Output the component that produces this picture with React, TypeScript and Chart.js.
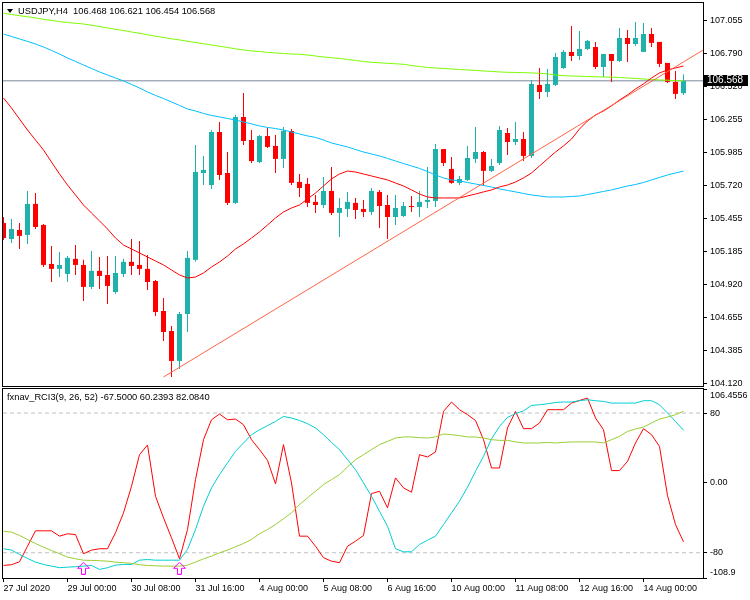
import React, { useEffect, useRef } from 'react';
import { Chart, registerables } from 'chart.js';

Chart.register(...registerables);

const FONT = "'Liberation Sans', Arial, sans-serif";

const symbolTitle = 'USDJPY,H4  106.468 106.621 106.454 106.568';
const indicatorTitle = 'fxnav_RCI3(9, 26, 52) -67.5000 60.2393 82.0840';

// H4 bars, index 0 = 27 Jul 2020 16:00
const barOpen = [
  105.418, 105.288, 105.361, 105.320, 105.572, 105.402, 105.086, 105.046, 105.005, 105.127,
  105.078, 104.900, 105.030, 104.997, 104.859, 105.005, 105.103, 105.078, 105.046, 104.948,
  104.705, 104.543, 104.301, 104.681, 105.119, 105.822, 105.725, 106.154, 105.822, 105.580,
  106.275, 106.089, 105.911, 106.121, 106.041, 105.936, 106.162, 105.750, 105.734, 105.588,
  105.563, 105.677, 105.499, 105.531, 105.580, 105.531, 105.507, 105.669, 105.563, 105.466,
  105.474, 105.555, 105.547, 105.588, 105.596, 106.016, 105.855, 105.742, 105.766, 105.936,
  105.992, 105.839, 105.903, 106.146, 106.073, 106.097, 105.960, 106.535, 106.478, 106.535,
  106.672, 106.802, 106.769, 106.826, 106.842, 106.680, 106.785, 106.729, 106.915, 106.866,
  106.802, 106.947, 106.883, 106.713, 106.559, 106.468,
];
const barHigh = [
  105.466, 105.450, 105.418, 105.677, 105.660, 105.410, 105.232, 105.183, 105.151, 105.240,
  105.119, 105.191, 105.143, 105.151, 105.151, 105.127, 105.288, 105.272, 105.159, 104.957,
  104.811, 104.584, 104.697, 105.191, 106.049, 105.960, 106.170, 106.235, 105.992, 106.291,
  106.470, 106.170, 106.129, 106.186, 106.129, 106.195, 106.178, 105.814, 105.782, 105.644,
  105.790, 105.871, 105.620, 105.669, 105.620, 105.604, 105.701, 105.685, 105.644, 105.644,
  105.588, 105.636, 105.677, 105.871, 106.057, 106.016, 105.952, 105.798, 106.041, 106.195,
  106.000, 105.936, 106.202, 106.186, 106.235, 106.154, 106.575, 106.672, 106.664, 106.794,
  106.818, 107.012, 106.972, 106.899, 106.883, 106.785, 106.785, 106.996, 106.980, 107.045,
  107.036, 106.996, 106.883, 106.713, 106.648, 106.621,
];
const barLow = [
  105.280, 105.256, 105.207, 105.248, 105.369, 105.062, 104.940, 104.981, 104.940, 104.997,
  104.786, 104.884, 104.884, 104.762, 104.843, 104.981, 104.997, 104.997, 104.876, 104.665,
  104.462, 104.171, 104.236, 104.535, 105.103, 105.725, 105.693, 105.766, 105.563, 105.572,
  106.049, 105.903, 105.903, 106.025, 105.822, 105.863, 105.725, 105.628, 105.547, 105.499,
  105.539, 105.483, 105.304, 105.466, 105.450, 105.466, 105.483, 105.377, 105.288, 105.402,
  105.466, 105.507, 105.466, 105.539, 105.547, 105.879, 105.734, 105.725, 105.758, 105.903,
  105.725, 105.831, 105.887, 105.968, 106.049, 105.919, 105.944, 106.421, 106.437, 106.526,
  106.664, 106.729, 106.737, 106.818, 106.664, 106.599, 106.559, 106.721, 106.721, 106.850,
  106.802, 106.842, 106.680, 106.551, 106.421, 106.454,
];
const barClose = [
  105.296, 105.369, 105.313, 105.572, 105.385, 105.078, 105.046, 105.078, 105.135, 105.078,
  104.900, 105.030, 104.989, 104.908, 105.013, 105.103, 105.070, 105.046, 104.940, 104.697,
  104.535, 104.301, 104.681, 105.135, 105.831, 105.847, 106.154, 105.806, 105.580, 106.275,
  106.081, 105.919, 106.121, 106.033, 105.936, 106.162, 105.742, 105.701, 105.580, 105.563,
  105.677, 105.499, 105.539, 105.588, 105.523, 105.507, 105.677, 105.555, 105.466, 105.539,
  105.555, 105.547, 105.588, 105.604, 106.016, 105.903, 105.742, 105.774, 105.944, 105.992,
  105.839, 105.879, 106.170, 106.073, 106.097, 105.960, 106.543, 106.478, 106.543, 106.761,
  106.802, 106.769, 106.826, 106.891, 106.680, 106.785, 106.729, 106.915, 106.866, 106.915,
  106.947, 106.875, 106.705, 106.559, 106.462, 106.568,
];

const maGreen = [
  107.115, 107.105, 107.095, 107.087, 107.077, 107.066, 107.057, 107.048, 107.040, 107.034,
  107.028, 107.018, 107.007, 106.996, 106.985, 106.975, 106.963, 106.953, 106.941, 106.929,
  106.919, 106.908, 106.899, 106.888, 106.878, 106.868, 106.858, 106.848, 106.838, 106.827,
  106.818, 106.810, 106.806, 106.798, 106.794, 106.789, 106.785, 106.783, 106.777, 106.769,
  106.761, 106.755, 106.749, 106.741, 106.733, 106.725, 106.718, 106.714, 106.710, 106.706,
  106.702, 106.692, 106.684, 106.676, 106.672, 106.668, 106.664, 106.660, 106.656, 106.652,
  106.648, 106.644, 106.640, 106.637, 106.636, 106.634, 106.632, 106.629, 106.624, 106.615,
  106.610, 106.607, 106.605, 106.603, 106.601, 106.599, 106.598, 106.595, 106.591, 106.587,
  106.583, 106.579, 106.575, 106.573, 106.569, 106.567,
];
const maBlue = [
  106.947, 106.927, 106.907, 106.887, 106.866, 106.842, 106.814, 106.785, 106.753, 106.725,
  106.696, 106.668, 106.640, 106.615, 106.591, 106.567, 106.539, 106.510, 106.478, 106.450,
  106.425, 106.397, 106.369, 106.340, 106.324, 106.304, 106.288, 106.276, 106.263, 106.251,
  106.235, 106.219, 106.203, 106.191, 106.182, 106.170, 106.154, 106.138, 106.122, 106.110,
  106.089, 106.065, 106.049, 106.033, 106.012, 105.992, 105.976, 105.960, 105.940, 105.919,
  105.899, 105.879, 105.859, 105.834, 105.806, 105.782, 105.766, 105.758, 105.745, 105.733,
  105.721, 105.709, 105.693, 105.681, 105.669, 105.656, 105.644, 105.636, 105.628, 105.628,
  105.628, 105.632, 105.636, 105.648, 105.660, 105.673, 105.685, 105.701, 105.717, 105.729,
  105.745, 105.766, 105.786, 105.806, 105.822, 105.838,
];
const maRed = [
  106.429, 106.348, 106.259, 106.170, 106.089, 106.008, 105.911, 105.814, 105.725, 105.644,
  105.563, 105.498, 105.434, 105.369, 105.296, 105.239, 105.207, 105.175, 105.142, 105.110,
  105.078, 105.037, 104.997, 104.972, 104.980, 105.013, 105.061, 105.102, 105.150, 105.207,
  105.248, 105.296, 105.345, 105.401, 105.458, 105.507, 105.539, 105.563, 105.612, 105.660,
  105.717, 105.774, 105.814, 105.838, 105.830, 105.814, 105.798, 105.782, 105.766, 105.741,
  105.717, 105.685, 105.652, 105.628, 105.620, 105.620, 105.620, 105.620, 105.636, 105.652,
  105.669, 105.685, 105.709, 105.725, 105.749, 105.782, 105.822, 105.879, 105.936, 105.992,
  106.041, 106.097, 106.178, 106.243, 106.292, 106.324, 106.365, 106.413, 106.454, 106.502,
  106.543, 106.591, 106.632, 106.656, 106.672, 106.688,
];

const rciShort = [
  -94.5, -93.7, -90.3, -72.5, -54.9, -54.9, -54.9, -61.0, -58.3, -59.1,
  -81.1, -77.0, -75.4, -75.4, -57.1, -34.3, -3.9, 32.3, 43.4, -15.3,
  -40.0, -62.9, -86.9, -53.4, 3.8, 49.5, 72.3, 78.9, 72.3, 73.1,
  66.6, 49.5, 38.1, 25.8, -1.1, 43.8, 0.0, -61.0, -61.0, -72.5,
  -85.7, -89.6, -91.4, -72.5, -66.7, -60.2, -12.2, -9.6, -28.6, 5.7,
  -5.7, -10.7, 32.3, 29.7, 35.4, 81.8, 92.6, 83.8, 78.1, 71.5,
  49.5, 17.1, 17.1, 62.9, 81.8, 62.1, 62.1, 68.6, 83.8, 83.8,
  83.8, 91.4, 94.4, 97.1, 74.3, 60.9, 14.1, 14.1, 24.7, 45.7,
  62.1, 55.2, 41.8, -14.5, -47.7, -67.5,
];
const rciMid = [
  -75.4, -77.0, -81.9, -86.5, -90.7, -93.4, -95.3, -97.1, -96.5, -96.0,
  -95.3, -94.5, -99.1, -97.1, -94.2, -93.4, -93.4, -88.5, -87.7, -88.5,
  -88.5, -88.5, -88.5, -76.2, -53.4, -26.7, -5.7, 9.5, 22.9, 36.1,
  45.7, 55.2, 60.9, 65.5, 70.4, 76.1, 74.3, 71.5, 67.8, 62.9,
  55.2, 46.4, 38.1, 26.6, 15.2, 0.0, -15.3, -32.5, -49.6, -75.4,
  -78.9, -78.9, -70.5, -65.6, -61.0, -47.7, -34.3, -21.0, -5.0, 13.3,
  30.4, 50.3, 64.7, 75.0, 79.2, 82.6, 88.7, 89.5, 90.6, 92.1,
  92.6, 92.6, 94.1, 95.2, 94.1, 93.3, 91.4, 91.4, 91.4, 91.4,
  94.1, 94.1, 89.5, 80.0, 70.4, 60.2,
];
const rciLong = [
  -55.3, -56.4, -60.2, -64.8, -69.4, -73.6, -77.4, -81.1, -85.0, -86.9,
  -88.5, -88.8, -89.1, -89.6, -90.7, -91.4, -92.2, -93.7, -94.5, -94.9,
  -95.3, -95.3, -95.3, -94.2, -90.7, -86.9, -83.9, -80.0, -77.0, -73.1,
  -69.4, -64.8, -58.3, -53.4, -47.7, -41.1, -34.3, -24.8, -17.1, -9.6,
  -1.9, 3.8, 9.5, 18.3, 26.6, 32.3, 38.1, 43.8, 47.5, 51.4,
  52.6, 52.6, 51.8, 51.4, 52.6, 56.0, 55.2, 54.1, 52.6, 52.6,
  51.4, 49.5, 48.7, 48.7, 46.9, 45.7, 45.7, 45.7, 46.4, 45.7,
  46.4, 46.9, 46.9, 46.9, 46.9, 45.7, 49.5, 53.3, 59.0, 61.7,
  64.0, 68.6, 73.1, 75.4, 78.1, 82.1,
];

const signalBars = [10, 22];
const signalValues = [-97.8, -97.8];

const trendBars = [20, 85];
const trendPrices = [104.171, 106.721];

const currentPrice = 106.568;
const rciLevels = [80, -80];

const priceTicks = [107.055, 106.79, 106.52, 106.255, 105.985, 105.72, 105.455, 105.185, 104.92, 104.655, 104.385, 104.12];
const rciTicks = [-108.9, -80, 0, 80, 106.4556];
const rciTickLabels = ['-108.9', '-80', '0.00', '80', '106.4556'];
const timeTickBars = [0, 8, 16, 24, 32, 40, 48, 56, 64, 72, 80];
const timeTickLabels = [
  '27 Jul 2020', '29 Jul 00:00', '30 Jul 08:00', '31 Jul 16:00', '4 Aug 00:00', '5 Aug 08:00',
  '6 Aug 16:00', '10 Aug 00:00', '11 Aug 08:00', '12 Aug 16:00', '14 Aug 00:00',
];

const priceMin = 104.09;
const priceMax = 107.206;
const rciMin = -108.9;
const rciMax = 109.8;
const xMin = -0.0625;
const xMax = 87.4375;

const UP = '#20B2AA';
const DOWN = '#FF0000';

export default function App() {
  const ref = useRef<HTMLCanvasElement>(null);

  useEffect(() => {
    const canvas = ref.current;
    if (!canvas) return;

    const arrow = document.createElement('canvas');
    arrow.width = 13;
    arrow.height = 13;
    const a = arrow.getContext('2d')!;
    a.strokeStyle = '#FF00FF';
    a.lineWidth = 1;
    a.beginPath();
    a.moveTo(6.5, 0.5);
    a.lineTo(12.5, 6.5);
    a.lineTo(8.5, 6.5);
    a.lineTo(8.5, 12.5);
    a.lineTo(4.5, 12.5);
    a.lineTo(4.5, 6.5);
    a.lineTo(0.5, 6.5);
    a.closePath();
    a.stroke();

    const colors = barClose.map((c, i) => (c >= barOpen[i] ? UP : DOWN));
    const series = (arr: number[]) => arr.map((v, i) => ({ x: i, y: v }));
    const slope = (trendPrices[1] - trendPrices[0]) / (trendBars[1] - trendBars[0]);
    const trendData = [
      { x: trendBars[0], y: trendPrices[0] },
      { x: trendBars[1], y: trendPrices[1] },
      { x: xMax, y: trendPrices[1] + slope * (xMax - trendBars[1]) },
    ];

    const axisFont = { family: FONT, size: 9 };

    const overlay = {
      id: 'overlay',
      afterDraw(chart: any) {
        const ctx = chart.ctx;
        const area = chart.chartArea;
        const yS = chart.scales.y;
        const rS = chart.scales.rci;
        ctx.save();
        ctx.strokeStyle = '#000';
        ctx.lineWidth = 1;
        const l = area.left - 0.5;
        const r = area.right + 0.5;
        ctx.strokeRect(l, yS.top + 0.5, r - l, yS.bottom - 1 - yS.top);
        ctx.strokeRect(l, rS.top + 1.5, r - l, rS.bottom - rS.top - 1);

        ctx.fillStyle = '#000';
        ctx.beginPath();
        ctx.moveTo(7, 9);
        ctx.lineTo(13, 9);
        ctx.lineTo(10, 13);
        ctx.closePath();
        ctx.fill();

        ctx.font = `9.3px ${FONT}`;
        ctx.textBaseline = 'middle';
        ctx.textAlign = 'left';
        ctx.fillText(symbolTitle, 18, 11);
        ctx.fillText(indicatorTitle, 7, rS.top + 10);

        const py = yS.getPixelForValue(currentPrice);
        ctx.fillStyle = '#000';
        ctx.fillRect(area.right + 1, Math.round(py) - 6, 44, 11);
        ctx.fillStyle = '#fff';
        ctx.font = `10px ${FONT}`;
        ctx.fillText(currentPrice.toFixed(3), area.right + 4, Math.round(py) - 0.5);
        ctx.restore();
      },
    };

    const lineBase = { type: 'line', pointRadius: 0, borderWidth: 1, tension: 0, fill: false };

    const chart = new Chart(canvas, {
      type: 'line',
      data: {
        datasets: [
          {
            type: 'line',
            data: signalBars.map((b, i) => ({ x: b, y: signalValues[i] })),
            yAxisID: 'rci',
            showLine: false,
            pointStyle: arrow,
            pointRadius: 6,
            borderWidth: 0,
          },
          { ...lineBase, data: series(rciLong), yAxisID: 'rci', borderColor: '#9ACD32' },
          { ...lineBase, data: series(rciMid), yAxisID: 'rci', borderColor: '#00CED1' },
          { ...lineBase, data: series(rciShort), yAxisID: 'rci', borderColor: '#FF0000' },
          {
            ...lineBase,
            data: [{ x: xMin, y: rciLevels[0] }, { x: xMax, y: rciLevels[0] }],
            yAxisID: 'rci',
            borderColor: '#C0C0C0',
            borderDash: [4, 3],
          },
          {
            ...lineBase,
            data: [{ x: xMin, y: rciLevels[1] }, { x: xMax, y: rciLevels[1] }],
            yAxisID: 'rci',
            borderColor: '#C0C0C0',
            borderDash: [4, 3],
          },
          { ...lineBase, data: trendData, yAxisID: 'y', borderColor: '#FF6347' },
          { ...lineBase, data: series(maRed), yAxisID: 'y', borderColor: '#FF0000' },
          { ...lineBase, data: series(maBlue), yAxisID: 'y', borderColor: '#00BFFF' },
          { ...lineBase, data: series(maGreen), yAxisID: 'y', borderColor: '#7CFC00' },
          {
            type: 'bar',
            data: barOpen.map((o, i) => ({ x: i, y: [o, barClose[i]] })),
            yAxisID: 'y',
            backgroundColor: colors,
            barThickness: 5,
            grouped: false,
            minBarLength: 1,
            borderWidth: 0,
            inflateAmount: 0,
          },
          {
            type: 'bar',
            data: barLow.map((lo, i) => ({ x: i, y: [lo, barHigh[i]] })),
            yAxisID: 'y',
            backgroundColor: colors,
            barThickness: 1,
            grouped: false,
            borderWidth: 0,
            inflateAmount: 0,
          },
          {
            ...lineBase,
            data: [{ x: xMin, y: currentPrice }, { x: xMax, y: currentPrice }],
            yAxisID: 'y',
            borderColor: '#778899',
          },
        ] as any,
      },
      options: {
        responsive: false,
        animation: false,
        devicePixelRatio: 1,
        events: [],
        layout: { autoPadding: false, padding: { top: 2, left: 3, right: 0, bottom: 0 } },
        plugins: { legend: { display: false }, tooltip: { enabled: false }, title: { display: false } },
        scales: {
          x: {
            type: 'linear',
            position: 'bottom',
            min: xMin,
            max: xMax,
            bounds: 'data',
            offset: false,
            afterBuildTicks: (s: any) => {
              s.ticks = timeTickBars.map((v) => ({ value: v }));
            },
            afterFit: (s: any) => {
              s.height = 22;
              s.paddingLeft = 0;
              s.paddingRight = 0;
            },
            ticks: {
              autoSkip: false,
              maxRotation: 0,
              minRotation: 0,
              align: 'start',
              padding: 1,
              color: '#000',
              font: axisFont,
              callback: (_v: any, i: number) => timeTickLabels[i],
            },
            grid: { display: true, offset: false, drawOnChartArea: false, drawTicks: true, tickLength: 4, color: '#000' },
            border: { display: false },
          },
          y: {
            type: 'linear',
            position: 'right',
            stack: 'panes',
            stackWeight: 385,
            min: priceMin,
            max: priceMax,
            beginAtZero: false,
            bounds: 'data',
            afterBuildTicks: (s: any) => {
              s.ticks = priceTicks.map((v) => ({ value: v }));
            },
            afterFit: (s: any) => {
              s.width = 47;
              s.paddingTop = 0;
              s.paddingBottom = 0;
            },
            ticks: {
              autoSkip: false,
              padding: 3,
              color: '#000',
              font: axisFont,
              callback: (v: any) => Number(v).toFixed(3),
            },
            grid: { display: true, drawOnChartArea: false, drawTicks: true, tickLength: 4, color: '#000' },
            border: { display: false },
          },
          rci: {
            type: 'linear',
            position: 'right',
            stack: 'panes',
            stackWeight: 191,
            min: rciMin,
            max: rciMax,
            beginAtZero: false,
            bounds: 'data',
            afterBuildTicks: (s: any) => {
              s.ticks = rciTicks.map((v) => ({ value: v }));
            },
            afterFit: (s: any) => {
              s.width = 47;
              s.paddingTop = 0;
              s.paddingBottom = 0;
            },
            ticks: {
              autoSkip: false,
              padding: 3,
              color: '#000',
              font: axisFont,
              callback: (_v: any, i: number) => {
                if (i === 0) return [rciTickLabels[i], ''];
                if (i === rciTickLabels.length - 1) return ['', rciTickLabels[i]];
                return rciTickLabels[i];
              },
            },
            grid: { display: true, drawOnChartArea: false, drawTicks: true, tickLength: 4, color: '#000' },
            border: { display: false },
          },
        },
      } as any,
      plugins: [overlay],
    });

    return () => chart.destroy();
  }, []);

  return (
    <div style={{ position: 'fixed', left: 0, top: 0, width: 750, height: 600, background: '#fff' }}>
      <canvas ref={ref} width={750} height={600} style={{ display: 'block', width: 750, height: 600 }} />
    </div>
  );
}
